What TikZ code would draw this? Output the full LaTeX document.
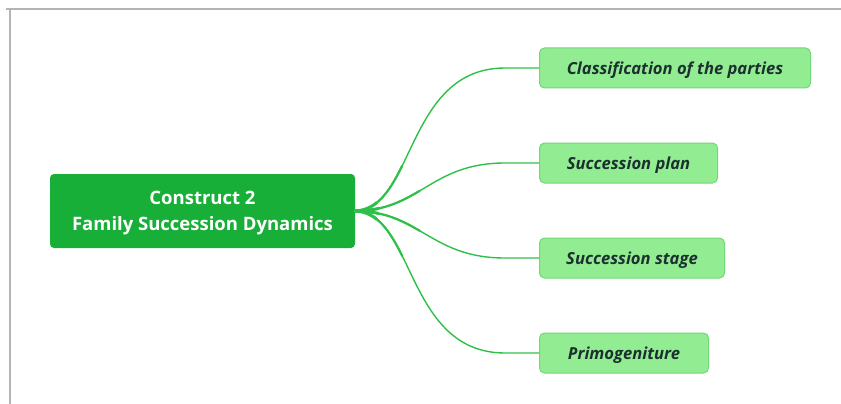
\documentclass[tikz,border=0pt]{standalone}
\usepackage{fontspec}
\setmainfont{Open Sans}
\begin{document}
\begin{tikzpicture}[x=1pt,y=-1pt,
  rootbox/.style={draw=none,fill=rootgreen,rounded corners=4pt,minimum width=305pt,minimum height=74pt},
  roottext/.style={text=white,font=\fontsize{18.5}{26}\selectfont\bfseries,align=center},
  leafbox/.style={draw=leafedge,line width=1pt,fill=leafgreen,rounded corners=5pt,minimum height=40pt,
    text height=15pt,text depth=2pt,
    anchor=west,text=leaftext,font=\fontsize{16.6}{18}\selectfont\bfseries\itshape},
  branch/.style={draw=branchgreen,line width=1.4pt},
  thick1/.style={draw=branchgreen,line width=2.2pt,dash pattern=on 70pt off 2000pt},
  thick2/.style={draw=branchgreen,line width=3pt,dash pattern=on 25pt off 2000pt}]
\definecolor{rootgreen}{HTML}{18AF38}
\definecolor{leafgreen}{HTML}{92EC92}
\definecolor{leafedge}{HTML}{70D878}
\definecolor{leaftext}{HTML}{1C3030}
\definecolor{branchgreen}{HTML}{2EC048}
\definecolor{framegrey}{HTML}{B4B4B4}
\useasboundingbox (0,0) rectangle (841,404);
% frame
\draw[framegrey,line width=2pt] (6,9) -- (841,9);
\draw[framegrey,line width=2pt] (10,9) -- (10,404);
% nodes
\node[rootbox] (root) at (202.5,211) {};
\node[roottext] (rootlabel) at (202.5,213.5) {Construct 2\\Family Succession Dynamics};
\node[leafbox,minimum width=271pt] (c) at (539,68) {Classification of the parties};
\node[leafbox,minimum width=178pt] (p) at (539,163) {Succession plan};
\node[leafbox,minimum width=185pt] (s) at (539,258) {Succession stage};
\node[leafbox,minimum width=169pt] (g) at (539,353) {Primogeniture};
\coordinate (o) at (354,211);
% branches, widened near the root
\foreach \sty in {branch,thick1,thick2}{
  \draw[\sty] (o) .. controls (415,211) and (405,68) .. (505,68) -- (c.west);
  \draw[\sty] (o) .. controls (420,211) and (430,163) .. (505,163) -- (p.west);
  \draw[\sty] (o) .. controls (420,211) and (430,258) .. (505,258) -- (s.west);
  \draw[\sty] (o) .. controls (415,211) and (405,353) .. (505,353) -- (g.west);
}
\end{tikzpicture}
\end{document}
